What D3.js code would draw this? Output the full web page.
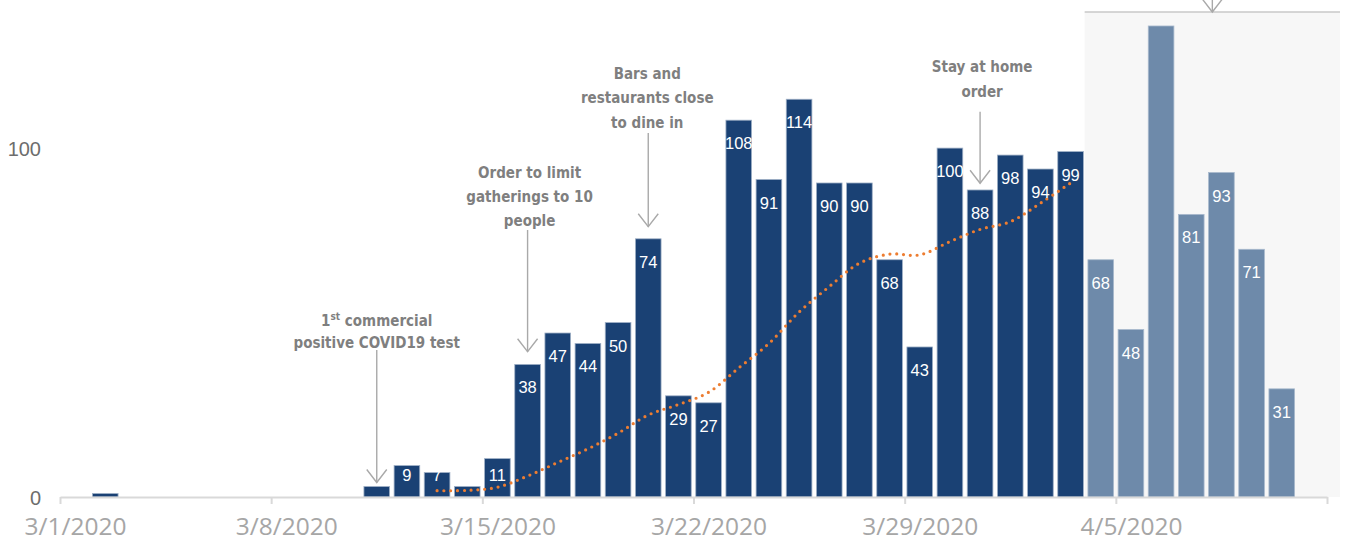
<!DOCTYPE html>
<html>
<head>
<meta charset="utf-8">
<script src="https://cdn.jsdelivr.net/npm/d3@7"></script>
<style>
  html, body { margin: 0; padding: 0; background: #ffffff; }
  svg { display: block; }
</style>
</head>
<body>
<svg id="chart" width="1345" height="544"></svg>
<script>
// ---------------- DATA ----------------
const startDate = "2020-03-01";
const endDate = "2020-04-12"; // exclusive
const cases = [0, 1, 0, 0, 0, 0, 0, 0, 0, 0,
               3, 9, 7, 3, 11, 38, 47, 44, 50, 74, 29, 27,
               108, 91, 114, 90, 90, 68, 43, 100, 88, 98, 94, 99,
               68, 48, 135, 81, 93, 71, 31, null];
const hiddenLabels = ["2020-03-02", "2020-03-11", "2020-03-14", "2020-04-06"];
const lagStart = "2020-04-04";
const trendStart = "2020-03-13";
const trend = [1.8, 1.9, 2.8, 6.0, 9.9, 13.8, 18.3, 23.5, 26.5, 30.0,
               37.0, 44.0, 53.0, 60.3, 67.0, 69.6, 69.4, 73.2, 76.7, 78.9, 84.2, 90.0];
const yTicks = [0, 100];
const annotations = [
  { date: "2020-03-11", lines: ["1|st| commercial", "positive COVID19 test"] },
  { date: "2020-03-16", lines: ["Order to limit", "gatherings to 10", "people"] },
  { date: "2020-03-20", lines: ["Bars and", "restaurants close", "to dine in"] },
  { date: "2020-03-31", lines: ["Stay at home", "order"] }
];

// ---------------- SETUP ----------------
const parse = d3.utcParse("%Y-%m-%d");
const days = d3.utcDay.range(parse(startDate), parse(endDate));
const keyFmt = d3.utcFormat("%Y-%m-%d");
const data = days.map((d, i) => ({ date: d, key: keyFmt(d), value: cases[i] }));

const svg = d3.select("#chart");
const X0 = 60, X1 = 1327, Y0 = 497;

const xTime = d3.scaleUtc().domain([parse(startDate), parse(endDate)]).range([X0, X1]);
const xBand = d3.scaleBand().domain(data.map(d => d.key)).range([X0, X1])
  .paddingInner(0.15).paddingOuter(0.075);
const step = xBand.step();
const xc = k => xBand(k) + xBand.bandwidth() / 2;
const y = d3.scaleLinear().domain([0, 140]).range([Y0, Y0 - 140 * 3.489]);

const FONT_ANN = "'DejaVu Sans Condensed', 'Liberation Sans Narrow', sans-serif";

// ---------------- SHADED LAG REGION ----------------
const shadeX0 = xBand(lagStart) - xBand.paddingInner() * step / 2 - 1;
const shadeX1 = 1340;
const shadeTop = y(139);
svg.append("rect")
  .attr("x", shadeX0).attr("y", shadeTop)
  .attr("width", shadeX1 - shadeX0).attr("height", Y0 - shadeTop)
  .attr("fill", "#f7f7f7");
svg.append("line")
  .attr("x1", shadeX0).attr("x2", shadeX1)
  .attr("y1", shadeTop).attr("y2", shadeTop)
  .attr("stroke", "#c8c8c8").attr("stroke-width", 1.5);

// ---------------- ARROW helper ----------------
function arrow(x, yTop, yTip) {
  const g = svg.append("g").attr("stroke", "#a9a9a9").attr("stroke-width", 1.4).attr("fill", "none");
  g.append("line").attr("x1", x).attr("x2", x).attr("y1", yTop).attr("y2", yTip);
  g.append("path").attr("d", `M${x - 10},${yTip - 13} L${x},${yTip} L${x + 10},${yTip - 13}`);
}
// top arrow into lag region (its text is off-page)
arrow((shadeX0 + shadeX1) / 2, -30, shadeTop);

// ---------------- BARS ----------------
const barData = data.filter(d => d.value != null && d.value > 0);
svg.append("g").selectAll("rect").data(barData).join("rect")
  .attr("x", d => xBand(d.key))
  .attr("y", d => y(d.value))
  .attr("width", xBand.bandwidth())
  .attr("height", d => y(0) - y(d.value))
  .attr("fill", d => d.key >= lagStart ? "#6e8aaa" : "#1a4174")
  .attr("stroke", d => d.key >= lagStart ? "#a9bacd" : "#9fb0c6")
  .attr("stroke-width", 0.8);

// ---------------- TREND LINE ----------------
const tStartIdx = data.findIndex(d => d.key === trendStart);
const trendPts = trend.map((v, i) => ({ key: data[tStartIdx + i].key, v }));
svg.append("path")
  .datum(trendPts)
  .attr("d", d3.line().x(d => xc(d.key)).y(d => y(d.v)).curve(d3.curveCatmullRom.alpha(0.5)))
  .attr("fill", "none")
  .attr("stroke", "#ed7d31")
  .attr("stroke-width", 3.2)
  .attr("stroke-linecap", "round")
  .attr("stroke-dasharray", "0 6.8");

// ---------------- DATA LABELS ----------------
svg.append("g").selectAll("text")
  .data(barData.filter(d => !hiddenLabels.includes(d.key)))
  .join("text")
  .attr("x", d => xc(d.key))
  .attr("y", d => Math.min(y(d.value) + 23, y(0) - 22))
  .attr("text-anchor", "middle")
  .attr("dominant-baseline", "central")
  .attr("fill", "#ffffff")
  .attr("font-family", "'Liberation Sans', sans-serif")
  .attr("font-size", 16.5)
  .text(d => d.value);

// ---------------- AXES ----------------
const weekTicks = d3.utcWeek.range(parse(startDate), d3.utcDay.offset(parse(endDate), 1));
const fmt = d3.utcFormat("%-m/%-d/%Y");
const xAxis = svg.append("g")
  .attr("transform", `translate(0,${Y0})`)
  .call(d3.axisBottom(xTime).tickValues(weekTicks).tickSize(7).tickSizeOuter(0)
    .tickFormat((d, i) => i === weekTicks.length - 1 ? "" : fmt(d)));
xAxis.select(".domain").attr("stroke", "#d9d9d9").attr("stroke-width", 2);
xAxis.selectAll(".tick line").attr("stroke", "#d9d9d9").attr("stroke-width", 2);
xAxis.selectAll(".tick text")
  .attr("x", step / 2)
  .attr("y", 38).attr("dy", null)
  .attr("fill", "#a6a6a6")
  .attr("font-family", "'Open Sans', sans-serif")
  .attr("font-size", 24.5);

const yAxis = svg.append("g")
  .attr("transform", `translate(${X0},0)`)
  .call(d3.axisLeft(y).tickValues(yTicks).tickSize(0).tickPadding(19).tickFormat(d3.format("d")));
yAxis.select(".domain").remove();
yAxis.selectAll(".tick text")
  .attr("dy", null)
  .attr("dominant-baseline", "central")
  .attr("fill", "#6d6d6d")
  .attr("font-family", "'Liberation Sans', sans-serif")
  .attr("font-size", 20);

// ---------------- ANNOTATIONS ----------------
const annLayout = [
  { dx: 0,  firstLine: 321, lineGap: 22, arrowTop: 350, arrowTip: 482.5 },
  { dx: 2,  firstLine: 172.7, lineGap: 24, arrowTop: 230, arrowTip: 351.7 },
  { dx: -1, firstLine: 74, lineGap: 24.3, arrowTop: 133, arrowTip: 226.7 },
  { dx: 2,  firstLine: 67.3, lineGap: 24.4, arrowTop: 111.7, arrowTip: 183.3 }
];
annotations.forEach((a, i) => {
  const L = annLayout[i];
  const x = xc(a.date);
  const t = svg.append("text")
    .attr("text-anchor", "middle")
    .attr("fill", "#7f7f7f")
    .attr("font-family", FONT_ANN)
    .attr("font-weight", "bold")
    .attr("font-size", 15);
  a.lines.forEach((line, j) => {
    const row = t.append("tspan").attr("x", x + L.dx).attr("y", L.firstLine + j * L.lineGap)
      .attr("dominant-baseline", "central");
    if (line.includes("|")) {
      const parts = line.split("|");
      row.append("tspan").text(parts[0]);
      row.append("tspan").attr("font-size", 10).attr("dy", -5).text(parts[1]);
      row.append("tspan").attr("dy", 5).text(parts[2]);
    } else {
      row.text(line);
    }
  });
  arrow(x, L.arrowTop, L.arrowTip);
});
</script>
</body>
</html>
